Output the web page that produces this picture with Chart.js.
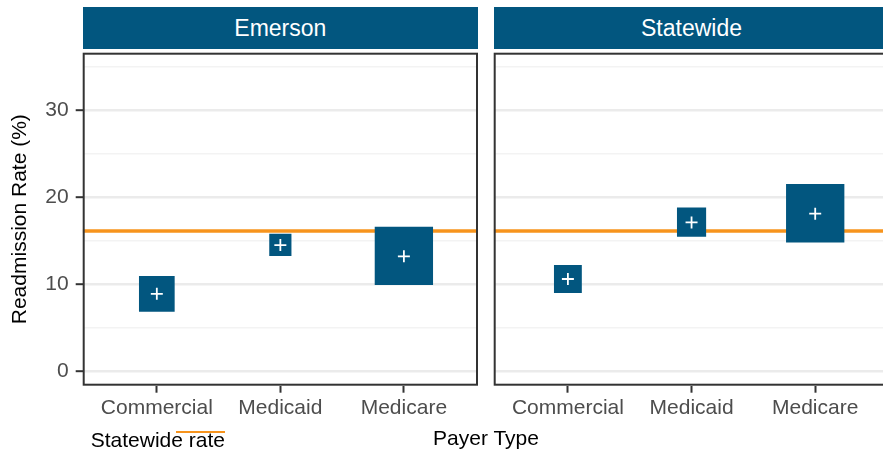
<!DOCTYPE html>
<html>
<head>
<meta charset="utf-8">
<script src="https://cdn.jsdelivr.net/npm/chart.js@4"></script>
<style>
  body { margin: 0; width: 883px; height: 452px; overflow: hidden; background: #fff; position: relative; font-family: "Liberation Sans", Arial, sans-serif; }
  .box { position: absolute; }
  .strip { position: absolute; top: 7.3px; height: 42px; line-height: 42px; background: #02567F; color: #fff; font-size: 23px; text-align: center; }
  .txt { position: absolute; font-size: 21px; line-height: 24px; color: #000; white-space: nowrap; }
</style>
</head>
<body>
<div class="strip" style="left:82.7px;width:395.3px">Emerson</div>
<div class="strip" style="left:493.7px;width:395.7px">Statewide</div>
<div class="box" style="left:0;top:0;width:480px;height:452px"><canvas id="chartEmerson"></canvas></div>
<div class="box" style="left:483px;top:0;width:410px;height:452px"><canvas id="chartStatewide"></canvas></div>
<div class="txt" style="left:90.7px;top:428.4px">Statewide rate</div>
<div class="box" style="left:176px;top:430.6px;width:49.3px;height:2.3px;background:#F7941D"></div>
<div class="txt" style="left:386px;top:425.7px;width:200px;text-align:center">Payer Type</div>
<script>
const payerTypes = ["Commercial", "Medicaid", "Medicare"];
const emersonRate = [8.9, 14.5, 13.2];
const emersonLower = [6.85, 13.25, 9.9];
const emersonUpper = [10.95, 15.8, 16.6];
const statewideRate = [10.6, 17.1, 18.1];
const statewideLower = [9.0, 15.45, 14.8];
const statewideUpper = [12.2, 18.8, 21.5];
const statewideAverage = 16.1;
const yTicks = [0, 5, 10, 15, 20, 25, 30, 35];

const blue = "#02567F";
const orange = "#F7941D";

const panelBorder = {
    id: "panelBorder",
    afterDraw(chart) {
        const a = chart.chartArea;
        const ctx = chart.ctx;
        ctx.save();
        ctx.strokeStyle = "#333333";
        ctx.lineWidth = 2;
        ctx.strokeRect(a.left + 1, a.top + 1, a.right - a.left - 2, a.bottom - a.top - 2);
        ctx.restore();
    }
};

// no extra label padding, panels must sit exactly where ggplot put them
function noPad(s) {
    s.paddingLeft = 0;
    s.paddingRight = 0;
    s.paddingTop = 0;
    s.paddingBottom = 0;
}

function makeChart(id, rate, lower, upper, showYAxis, padLeft, padRight) {
    const boxes = payerTypes.map((p, i) => ({ x: i, y: (lower[i] + upper[i]) / 2, lo: lower[i], hi: upper[i] }));
    const points = payerTypes.map((p, i) => ({ x: i, y: rate[i] }));
    return new Chart(document.querySelector("canvas#" + id), {
        type: "scatter",
        data: {
            datasets: [
                {
                    label: "Statewide rate",
                    data: [{ x: -0.6, y: statewideAverage }, { x: 2.6, y: statewideAverage }],
                    showLine: true,
                    borderColor: orange,
                    borderWidth: 3.5,
                    pointRadius: 0,
                    order: 3
                },
                {
                    label: "CI",
                    data: boxes,
                    pointStyle: "rect",
                    backgroundColor: blue,
                    borderWidth: 0,
                    pointRadius: function(ctx) {
                        const y = ctx.chart.scales.y;
                        const d = ctx.raw;
                        const h = Math.abs(y.getPixelForValue(d.lo) - y.getPixelForValue(d.hi));
                        return h / 2 / Math.SQRT1_2;
                    },
                    order: 2
                },
                {
                    label: "Rate",
                    data: points,
                    pointStyle: "cross",
                    borderColor: "#ffffff",
                    borderWidth: 1.8,
                    pointRadius: 6,
                    order: 1
                }
            ]
        },
        options: {
            responsive: true,
            maintainAspectRatio: false,
            animation: false,
            events: [],
            layout: { autoPadding: false, padding: { top: 52.7, right: padRight, bottom: 0, left: padLeft } },
            plugins: { legend: { display: false }, tooltip: { enabled: false } },
            scales: {
                x: {
                    type: "linear",
                    min: -0.6,
                    max: 2.6,
                    afterBuildTicks: s => { s.ticks = [0, 1, 2].map(v => ({ value: v })); },
                    afterFit: s => { s.height = 66.3; noPad(s); },
                    border: { display: false },
                    grid: { drawOnChartArea: false, tickLength: 7, tickColor: "#333333", tickWidth: 2 },
                    ticks: {
                        autoSkip: false,
                        maxRotation: 0,
                        padding: 3,
                        color: "#4D4D4D",
                        font: { family: "'Liberation Sans', Arial", size: 21 },
                        callback: v => payerTypes[v]
                    }
                },
                y: {
                    type: "linear",
                    min: -1.66,
                    max: 36.6,
                    afterBuildTicks: s => { s.ticks = yTicks.map(v => ({ value: v })); },
                    afterFit: s => { s.width = showYAxis ? 82.7 : 0; noPad(s); },
                    border: { display: false },
                    grid: {
                        drawTicks: showYAxis,
                        tickLength: 7,
                        tickWidth: 2,
                        color: c => (c.tick && c.tick.value % 10 === 0) ? "#EBEBEB" : "#F3F3F3",
                        lineWidth: c => (c.tick && c.tick.value % 10 === 0) ? 2.4 : 1.4,
                        tickColor: c => (c.tick && c.tick.value % 10 === 0) ? "#333333" : "rgba(0,0,0,0)"
                    },
                    ticks: {
                        display: showYAxis,
                        padding: 7,
                        color: "#4D4D4D",
                        font: { family: "'Liberation Sans', Arial", size: 21 },
                        callback: v => (v % 10 === 0 ? v : "")
                    },
                    title: {
                        display: showYAxis,
                        text: "Readmission Rate (%)",
                        color: "#000000",
                        font: { family: "'Liberation Sans', Arial", size: 21 },
                        padding: { top: 8, bottom: 0 }
                    }
                }
            }
        },
        plugins: [panelBorder]
    });
}

makeChart("chartEmerson", emersonRate, emersonLower, emersonUpper, true, 0, 2);
makeChart("chartStatewide", statewideRate, statewideLower, statewideUpper, false, 10.7, 3.6);
</script>
</body>
</html>
